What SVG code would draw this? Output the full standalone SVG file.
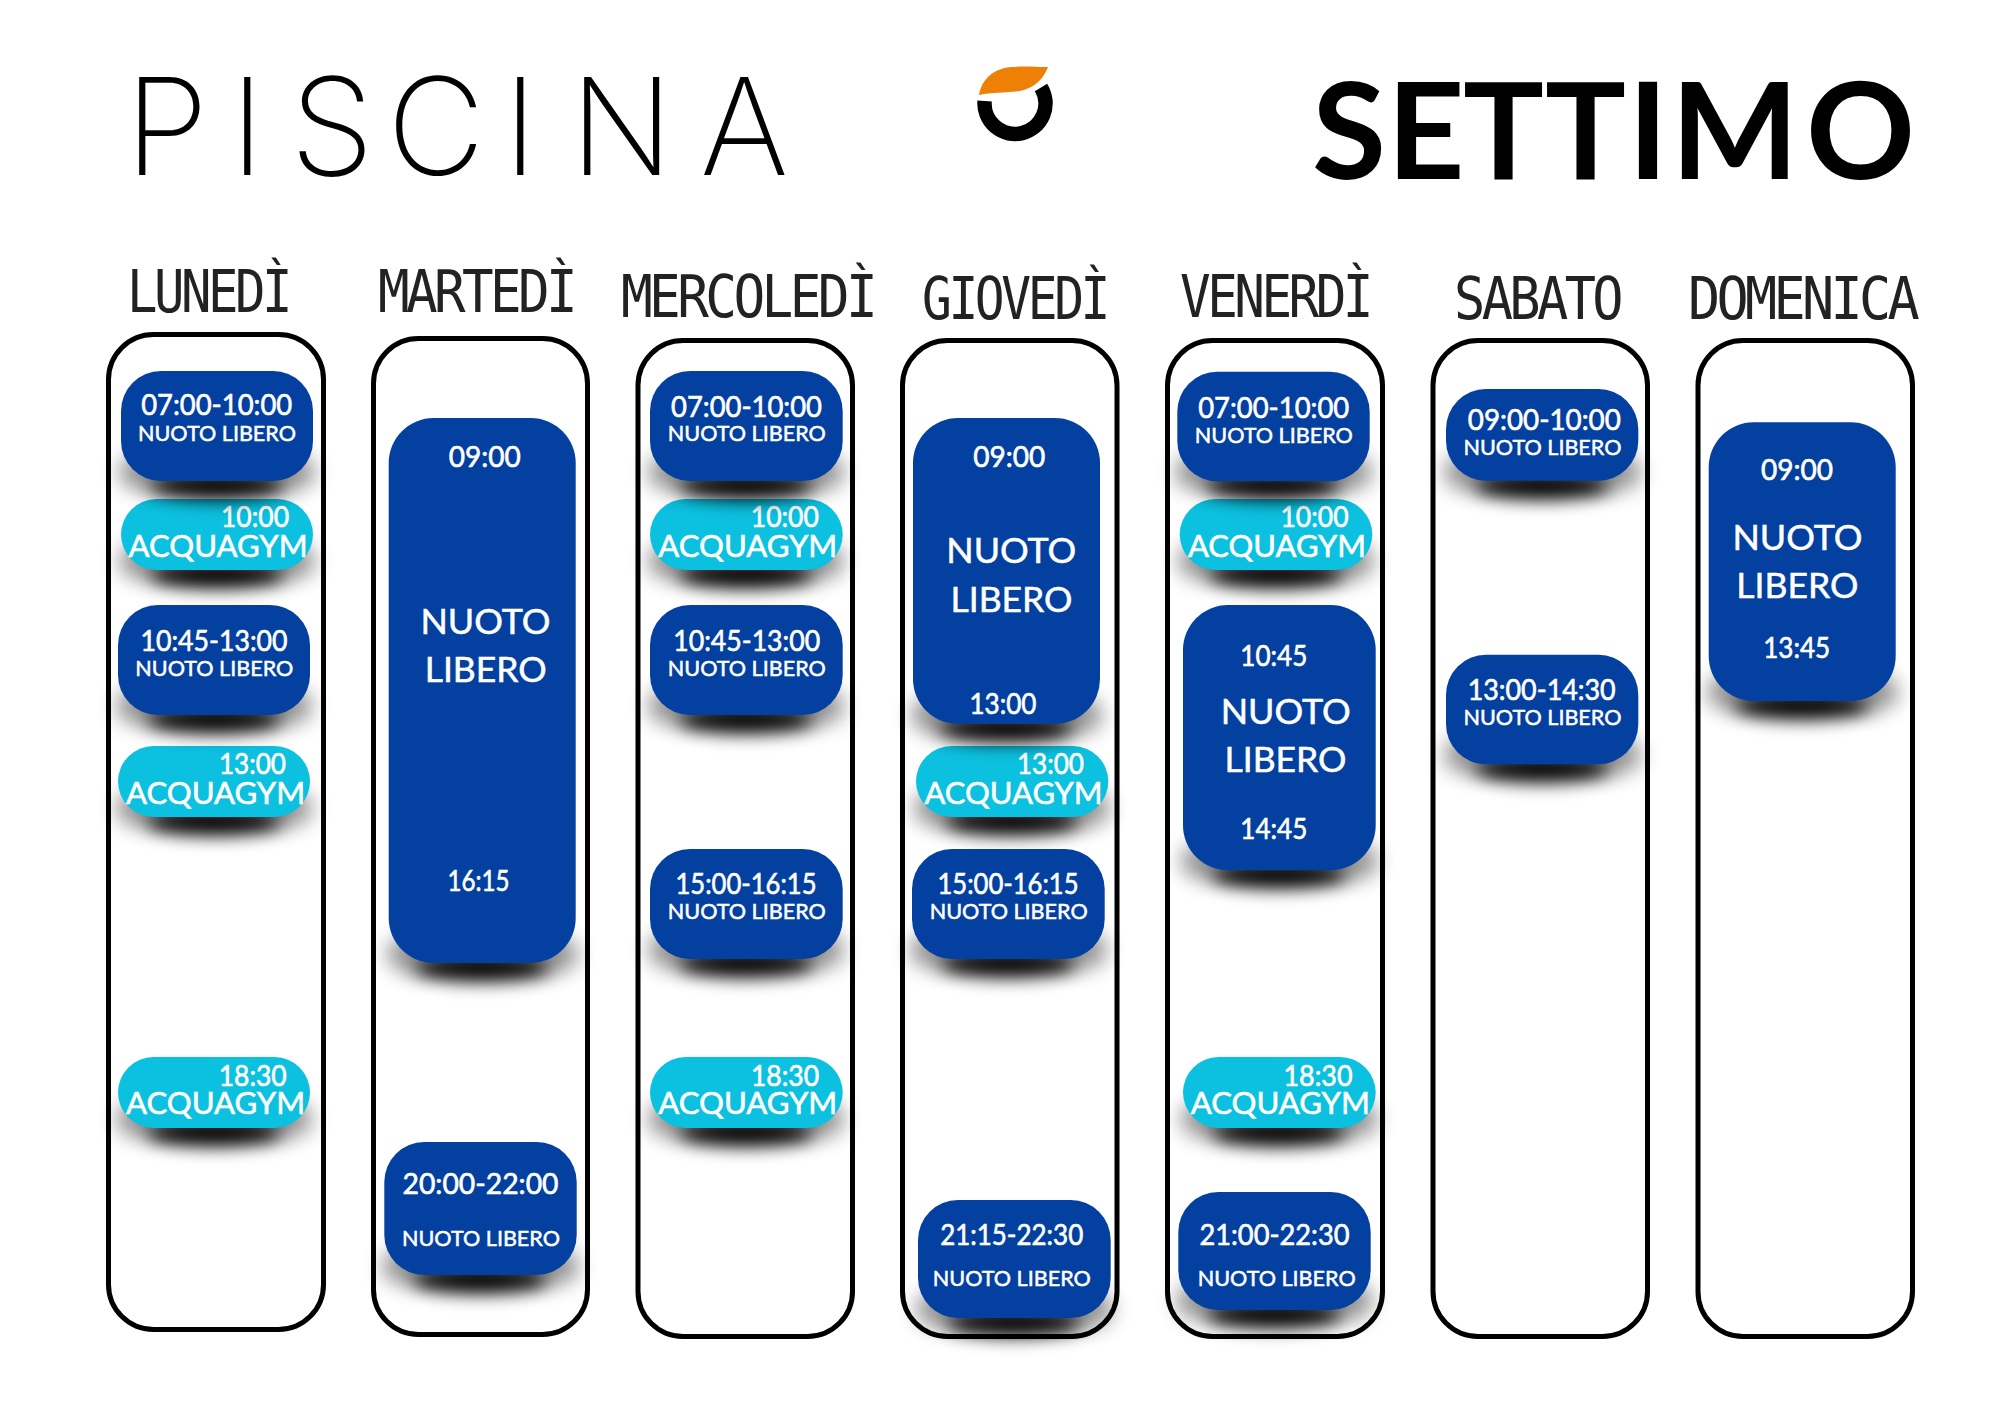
<svg xmlns="http://www.w3.org/2000/svg" width="2000" height="1414" viewBox="0 0 2000 1414">
<style>
text{font-family:"Lato","Liberation Sans",sans-serif;fill:#fff;text-anchor:middle}
.col{fill:none;stroke:#000;stroke-width:5}
.b{fill:#0340a0}.c{fill:#0cc0df}
.t{font-size:28px;stroke:#fff;stroke-width:.6px;transform:translateY(1px)}
.n{font-size:21px;stroke:#fff;stroke-width:.5px;transform:translateY(.6px)}
.a{font-size:31px;stroke:#fff;stroke-width:.6px;transform:translateY(1px)}
.l{font-size:34px;stroke:#fff;stroke-width:.5px;transform:translateY(1px)}
.day{font-family:"DejaVu Sans Mono",monospace;font-size:58px;fill:#222;text-anchor:start;letter-spacing:-4px}
.s1{fill:#000;opacity:.42;filter:url(#bl);height:38px}
.s2{fill:#000;filter:url(#bl2);rx:68px;ry:13px;transform:translateY(2px)}
.ttl{fill:#000;text-anchor:start}
</style>
<defs>
<filter id="bl" x="-30%" y="-100%" width="160%" height="300%"><feGaussianBlur stdDeviation="10"/></filter>
<filter id="bl2" x="-30%" y="-200%" width="160%" height="500%"><feGaussianBlur stdDeviation="9"/></filter>
</defs>
<rect width="2000" height="1414" fill="#fff"/>
<g id="title">
<text class="ttl" y="175" x="125 230 290 387 503 570 700" style="font-family:Inter,Lato,sans-serif;font-size:135px;font-weight:200">PISCINA</text>
<text class="ttl" y="179" x="1312 1387 1463 1545 1628 1671 1806" style="font-size:135px;font-weight:700">SETTIMO</text>
</g>
<g id="logo">
<path d="M979 95C982 78 995 68 1012 67C1025 66 1035 67 1048 67C1044 78 1035 88 1020 91C1008 93 992 92 979 95Z" fill="#ee8105"/>
<path d="M984.6 101A30.5 30.5 0 1 0 1041 87.5" fill="none" stroke="#000" stroke-width="14.5"/>
</g>
<g id="days">
<text class="day" x="127" y="312.3" textLength="162" lengthAdjust="spacingAndGlyphs">LUNEDÌ</text>
<text class="day" x="378" y="312.3" textLength="196" lengthAdjust="spacingAndGlyphs">MARTEDÌ</text>
<text class="day" x="621" y="316.7" textLength="253" lengthAdjust="spacingAndGlyphs">MERCOLEDÌ</text>
<text class="day" x="922" y="319.3" textLength="185" lengthAdjust="spacingAndGlyphs">GIOVEDÌ</text>
<text class="day" x="1180" y="317.3" textLength="190" lengthAdjust="spacingAndGlyphs">VENERDÌ</text>
<text class="day" x="1454" y="319.3" textLength="166" lengthAdjust="spacingAndGlyphs">SABATO</text>
<text class="day" x="1688" y="319.3" textLength="228" lengthAdjust="spacingAndGlyphs">DOMENICA</text>
</g>
<g id="columns">
<rect class="col" x="108.5" y="334.5" width="215" height="995" rx="45"/>
<rect class="col" x="373.5" y="338.5" width="214" height="996" rx="45"/>
<rect class="col" x="638" y="340.5" width="214.5" height="996" rx="45"/>
<rect class="col" x="902.5" y="340.5" width="214.5" height="996" rx="45"/>
<rect class="col" x="1167.5" y="340.5" width="215" height="996" rx="45"/>
<rect class="col" x="1433" y="340.5" width="214.5" height="996" rx="45"/>
<rect class="col" x="1698" y="340.5" width="214.5" height="996" rx="45"/>
</g>
<g id="lunedi">
<g id="lun-acq1"><rect class="s1" x="119" y="542" width="196" rx="25"/><ellipse class="s2" cx="217" cy="573"/><rect class="c" x="121" y="499" width="192" height="71" rx="35.5"/><text class="t" x="255" y="526" textLength="68" lengthAdjust="spacingAndGlyphs">10:00</text><text class="a" x="218" y="556" textLength="179" lengthAdjust="spacingAndGlyphs">ACQUAGYM</text></g>
<g id="lun-1"><rect class="s1" x="119" y="453" width="196" rx="25"/><ellipse class="s2" cx="217" cy="484"/><rect class="b" x="121" y="371" width="192" height="110" rx="40"/><text class="t" x="216.7" y="414" textLength="151" lengthAdjust="spacingAndGlyphs">07:00-10:00</text><text class="n" x="217" y="440.7" textLength="158" lengthAdjust="spacingAndGlyphs">NUOTO LIBERO</text></g>
<g id="lun-acq2"><rect class="s1" x="116" y="789" width="196" rx="25"/><ellipse class="s2" cx="214" cy="820"/><rect class="c" x="118" y="746" width="192" height="71" rx="35.5"/><text class="t" x="252.5" y="773" textLength="67" lengthAdjust="spacingAndGlyphs">13:00</text><text class="a" x="215.5" y="802.7" textLength="179" lengthAdjust="spacingAndGlyphs">ACQUAGYM</text></g>
<g id="lun-2"><rect class="s1" x="116" y="687" width="196" rx="25"/><ellipse class="s2" cx="214" cy="718"/><rect class="b" x="118" y="605" width="192" height="110" rx="40"/><text class="t" x="214" y="650" textLength="147" lengthAdjust="spacingAndGlyphs">10:45-13:00</text><text class="n" x="214.3" y="675.7" textLength="158" lengthAdjust="spacingAndGlyphs">NUOTO LIBERO</text></g>
<g id="lun-acq3"><rect class="s1" x="116" y="1100" width="196" rx="25"/><ellipse class="s2" cx="214" cy="1131"/><rect class="c" x="118" y="1057" width="192" height="71" rx="35.5"/><text class="t" x="252.7" y="1085" textLength="68" lengthAdjust="spacingAndGlyphs">18:30</text><text class="a" x="215.5" y="1113" textLength="179" lengthAdjust="spacingAndGlyphs">ACQUAGYM</text></g>
</g>
<g id="martedi">
<g id="mar-1"><rect class="s1" x="387" y="935" width="191" rx="25"/><ellipse class="s2" cx="482" cy="966"/><rect class="b" x="388.7" y="418" width="187" height="545" rx="45"/><text class="t" x="484.8" y="466" textLength="72" lengthAdjust="spacingAndGlyphs">09:00</text><text class="l" x="485.5" y="633.3" textLength="130" lengthAdjust="spacingAndGlyphs">NUOTO</text><text class="l" x="485.7" y="681.3" textLength="122" lengthAdjust="spacingAndGlyphs">LIBERO</text><text class="t" x="478.5" y="890" textLength="62" lengthAdjust="spacingAndGlyphs">16:15</text></g>
<g id="mar-2"><rect class="s1" x="382" y="1247" width="197" rx="25"/><ellipse class="s2" cx="480" cy="1278"/><rect class="b" x="384.3" y="1142" width="192.4" height="133" rx="40"/><text class="t" x="480.5" y="1192.7" textLength="156" lengthAdjust="spacingAndGlyphs">20:00-22:00</text><text class="n" x="481" y="1245.7" textLength="158" lengthAdjust="spacingAndGlyphs">NUOTO LIBERO</text></g>
</g>
<g id="mercoledi">
<g id="mer-acq1"><rect class="s1" x="648" y="542" width="196" rx="25"/><ellipse class="s2" cx="746" cy="573"/><rect class="c" x="650" y="499" width="192.7" height="71" rx="35.5"/><text class="t" x="784.8" y="526" textLength="68" lengthAdjust="spacingAndGlyphs">10:00</text><text class="a" x="747.7" y="556" textLength="179" lengthAdjust="spacingAndGlyphs">ACQUAGYM</text></g>
<g id="mer-1"><rect class="s1" x="648" y="453" width="196" rx="25"/><ellipse class="s2" cx="746" cy="484"/><rect class="b" x="650" y="371" width="192.7" height="110" rx="40"/><text class="t" x="746.5" y="416" textLength="151" lengthAdjust="spacingAndGlyphs">07:00-10:00</text><text class="n" x="746.8" y="440.7" textLength="158" lengthAdjust="spacingAndGlyphs">NUOTO LIBERO</text></g>
<g id="mer-2"><rect class="s1" x="648" y="687" width="196" rx="25"/><ellipse class="s2" cx="746" cy="718"/><rect class="b" x="650" y="605" width="192.7" height="110" rx="40"/><text class="t" x="746.7" y="650" textLength="147" lengthAdjust="spacingAndGlyphs">10:45-13:00</text><text class="n" x="746.8" y="675.7" textLength="158" lengthAdjust="spacingAndGlyphs">NUOTO LIBERO</text></g>
<g id="mer-3"><rect class="s1" x="648" y="931" width="196" rx="25"/><ellipse class="s2" cx="746" cy="962"/><rect class="b" x="650" y="849" width="192.7" height="110" rx="40"/><text class="t" x="746" y="893.3" textLength="141" lengthAdjust="spacingAndGlyphs">15:00-16:15</text><text class="n" x="746.8" y="918.3" textLength="158" lengthAdjust="spacingAndGlyphs">NUOTO LIBERO</text></g>
<g id="mer-acq2"><rect class="s1" x="648" y="1100" width="196" rx="25"/><ellipse class="s2" cx="746" cy="1131"/><rect class="c" x="650" y="1057" width="192.7" height="71" rx="35.5"/><text class="t" x="785" y="1085" textLength="68" lengthAdjust="spacingAndGlyphs">18:30</text><text class="a" x="747.7" y="1113.3" textLength="179" lengthAdjust="spacingAndGlyphs">ACQUAGYM</text></g>
</g>
<g id="giovedi">
<g id="gio-acq1"><rect class="s1" x="914" y="789" width="196" rx="25"/><ellipse class="s2" cx="1012" cy="820"/><rect class="c" x="916" y="746" width="192.3" height="71" rx="35.5"/><text class="t" x="1050.5" y="773.3" textLength="67" lengthAdjust="spacingAndGlyphs">13:00</text><text class="a" x="1013.5" y="802.7" textLength="178" lengthAdjust="spacingAndGlyphs">ACQUAGYM</text></g>
<g id="gio-1"><rect class="s1" x="911" y="696" width="191" rx="25"/><ellipse class="s2" cx="1006" cy="727"/><rect class="b" x="913" y="418" width="187" height="306" rx="45"/><text class="t" x="1009.2" y="466" textLength="72" lengthAdjust="spacingAndGlyphs">09:00</text><text class="l" x="1011.3" y="562.3" textLength="130" lengthAdjust="spacingAndGlyphs">NUOTO</text><text class="l" x="1011.5" y="610.7" textLength="122" lengthAdjust="spacingAndGlyphs">LIBERO</text><text class="t" x="1003" y="713.3" textLength="67" lengthAdjust="spacingAndGlyphs">13:00</text></g>
<g id="gio-2"><rect class="s1" x="910" y="931" width="197" rx="25"/><ellipse class="s2" cx="1008" cy="962"/><rect class="b" x="912" y="849" width="192.7" height="110" rx="40"/><text class="t" x="1008" y="893.3" textLength="141" lengthAdjust="spacingAndGlyphs">15:00-16:15</text><text class="n" x="1008.7" y="918.3" textLength="158" lengthAdjust="spacingAndGlyphs">NUOTO LIBERO</text></g>
<g id="gio-3"><rect class="s1" x="916" y="1290" width="197" rx="25"/><ellipse class="s2" cx="1014" cy="1321"/><rect class="b" x="918" y="1200" width="192.7" height="118" rx="40"/><text class="t" x="1011.7" y="1244" textLength="143" lengthAdjust="spacingAndGlyphs">21:15-22:30</text><text class="n" x="1011.8" y="1285.7" textLength="158" lengthAdjust="spacingAndGlyphs">NUOTO LIBERO</text></g>
</g>
<g id="venerdi">
<g id="ven-acq1"><rect class="s1" x="1178" y="542" width="196" rx="25"/><ellipse class="s2" cx="1276" cy="573"/><rect class="c" x="1179.7" y="499" width="192.6" height="71" rx="35.5"/><text class="t" x="1314.5" y="526" textLength="68" lengthAdjust="spacingAndGlyphs">10:00</text><text class="a" x="1277" y="556" textLength="178" lengthAdjust="spacingAndGlyphs">ACQUAGYM</text></g>
<g id="ven-1"><rect class="s1" x="1175" y="453" width="197" rx="25"/><ellipse class="s2" cx="1273" cy="484"/><rect class="b" x="1177.3" y="371.7" width="192.4" height="109.6" rx="40"/><text class="t" x="1273.7" y="417.3" textLength="151" lengthAdjust="spacingAndGlyphs">07:00-10:00</text><text class="n" x="1273.8" y="442" textLength="158" lengthAdjust="spacingAndGlyphs">NUOTO LIBERO</text></g>
<g id="ven-2"><rect class="s1" x="1181" y="842" width="197" rx="25"/><ellipse class="s2" cx="1279" cy="873"/><rect class="b" x="1183" y="605" width="192.7" height="265.3" rx="45"/><text class="t" x="1273.8" y="665.3" textLength="67" lengthAdjust="spacingAndGlyphs">10:45</text><text class="l" x="1285.7" y="722.7" textLength="130" lengthAdjust="spacingAndGlyphs">NUOTO</text><text class="l" x="1285.5" y="770.7" textLength="122" lengthAdjust="spacingAndGlyphs">LIBERO</text><text class="t" x="1273.8" y="838.3" textLength="67" lengthAdjust="spacingAndGlyphs">14:45</text></g>
<g id="ven-acq2"><rect class="s1" x="1181" y="1100" width="197" rx="25"/><ellipse class="s2" cx="1279" cy="1131"/><rect class="c" x="1183" y="1057" width="192.7" height="71" rx="35.5"/><text class="t" x="1318" y="1085" textLength="69" lengthAdjust="spacingAndGlyphs">18:30</text><text class="a" x="1280.3" y="1113.3" textLength="179" lengthAdjust="spacingAndGlyphs">ACQUAGYM</text></g>
<g id="ven-3"><rect class="s1" x="1176" y="1282" width="197" rx="25"/><ellipse class="s2" cx="1274" cy="1313"/><rect class="b" x="1178.3" y="1192" width="192.4" height="118" rx="40"/><text class="t" x="1274.5" y="1243.7" textLength="150" lengthAdjust="spacingAndGlyphs">21:00-22:30</text><text class="n" x="1276.7" y="1285.7" textLength="158" lengthAdjust="spacingAndGlyphs">NUOTO LIBERO</text></g>
</g>
<g id="sabato">
<g id="sab-1"><rect class="s1" x="1444" y="453" width="197" rx="25"/><ellipse class="s2" cx="1542" cy="484"/><rect class="b" x="1446" y="389" width="192.3" height="91.7" rx="40"/><text class="t" x="1544.3" y="429.3" textLength="153" lengthAdjust="spacingAndGlyphs">09:00-10:00</text><text class="n" x="1542.5" y="454.3" textLength="158" lengthAdjust="spacingAndGlyphs">NUOTO LIBERO</text></g>
<g id="sab-2"><rect class="s1" x="1444" y="736" width="197" rx="25"/><ellipse class="s2" cx="1542" cy="767"/><rect class="b" x="1446" y="654.7" width="192.3" height="109.6" rx="40"/><text class="t" x="1541.7" y="699.3" textLength="148" lengthAdjust="spacingAndGlyphs">13:00-14:30</text><text class="n" x="1542.5" y="724.3" textLength="158" lengthAdjust="spacingAndGlyphs">NUOTO LIBERO</text></g>
</g>
<g id="domenica">
<g id="dom-1"><rect class="s1" x="1707" y="673" width="191" rx="25"/><ellipse class="s2" cx="1802" cy="704"/><rect class="b" x="1708.7" y="422.3" width="187" height="278.7" rx="45"/><text class="t" x="1797" y="479.3" textLength="72" lengthAdjust="spacingAndGlyphs">09:00</text><text class="l" x="1797.5" y="549" textLength="130" lengthAdjust="spacingAndGlyphs">NUOTO</text><text class="l" x="1797.3" y="597.3" textLength="122" lengthAdjust="spacingAndGlyphs">LIBERO</text><text class="t" x="1796.7" y="656.7" textLength="67" lengthAdjust="spacingAndGlyphs">13:45</text></g>
</g>
</svg>
